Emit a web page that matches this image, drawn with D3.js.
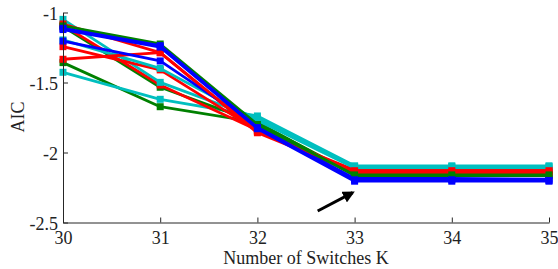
<!DOCTYPE html>
<html>
<head>
<meta charset="utf-8">
<script src="https://cdn.jsdelivr.net/npm/d3@7"></script>
<style>
  body { margin: 0; background: #fff; }
  svg { display: block; }
</style>
</head>
<body>
<svg width="558" height="269"></svg>
<script>
// Number of switches on the x axis
const kValues = [30, 31, 32, 33, 34, 35];
const yTicks = [-1, -1.5, -2, -2.5];

// AIC curves, one per run
const blueA  = [-1.113, -1.237, -1.822, -2.195, -2.195, -2.200];
const blueB  = [-1.122, -1.247, -1.830, -2.205, -2.205, -2.205];
const blueC  = [-1.204, -1.346, -1.815, -2.185, -2.185, -2.190];
const redA   = [-1.082, -1.287, -1.850, -2.130, -2.130, -2.130];
const redB   = [-1.334, -1.287, -1.859, -2.140, -2.140, -2.140];
const redC   = [-1.244, -1.410, -1.845, -2.125, -2.125, -2.125];
const redD   = [-1.090, -1.518, -1.840, -2.145, -2.145, -2.145];
const greenA = [-1.096, -1.225, -1.800, -2.160, -2.160, -2.160];
const greenB = [-1.100, -1.534, -1.787, -2.155, -2.155, -2.155];
const greenC = [-1.358, -1.673, -1.785, -2.165, -2.165, -2.165];
const cyanA  = [-1.196, -1.399, -1.770, -2.110, -2.110, -2.110];
const cyanB  = [-1.049, -1.499, -1.755, -2.100, -2.100, -2.100];
const cyanC  = [-1.427, -1.620, -1.739, -2.095, -2.095, -2.095];

const series = [
  { color: "#008000", values: greenC },
  { color: "#00BFBF", values: cyanC },
  { color: "#008000", values: greenB },
  { color: "#FF0000", values: redD },
  { color: "#00BFBF", values: cyanB },
  { color: "#FF0000", values: redC },
  { color: "#00BFBF", values: cyanA },
  { color: "#FF0000", values: redB },
  { color: "#0000FF", values: blueC },
  { color: "#FF0000", values: redA },
  { color: "#008000", values: greenA },
  { color: "#0000FF", values: blueA },
  { color: "#0000FF", values: blueB }
];

// arrow annotation pointing at K = 33, in data units
const arrowFrom = [32.62, -2.418];
const arrowTo = [32.98, -2.287];

const svg = d3.select("svg");
const x = d3.scaleLinear().domain([30, 35]).range([63, 549]);
const y = d3.scaleLinear().domain([-2.5, -1]).range([222.5, 12.5]);

const font = "'Liberation Serif', 'Times New Roman', serif";

// Lines
const line = d3.line()
  .x((d, i) => x(kValues[i]))
  .y(d => y(d));

series.forEach(s => {
  svg.append("path")
    .datum(s.values)
    .attr("fill", "none")
    .attr("stroke", s.color)
    .attr("stroke-width", 2.8)
    .attr("stroke-linejoin", "round")
    .attr("d", line);

  svg.selectAll(null)
    .data(s.values)
    .enter()
    .append("rect")
    .attr("x", (d, i) => x(kValues[i]) - 3.5)
    .attr("y", d => y(d) - 3.5)
    .attr("width", 7)
    .attr("height", 7)
    .attr("fill", s.color);
});

// Axes
const xAxis = svg.append("g")
  .attr("transform", `translate(0,${y(-2.5)})`)
  .call(d3.axisBottom(x).tickValues(kValues).tickFormat(d3.format("d"))
    .tickSizeInner(-5).tickSizeOuter(0).tickPadding(9));

const yAxis = svg.append("g")
  .attr("transform", `translate(${x(30)},0)`)
  .call(d3.axisLeft(y).tickValues(yTicks).tickFormat(d => d)
    .tickSizeInner(-5).tickSizeOuter(0).tickPadding(5));

[xAxis, yAxis].forEach(a => {
  a.select(".domain").attr("stroke", "#262626");
  a.selectAll(".tick line").attr("stroke", "#262626");
  a.selectAll("text")
    .attr("fill", "#222")
    .style("font-family", font)
    .style("font-size", "18px");
});
yAxis.selectAll("text").attr("dy", "0.4em");

// Axis labels
svg.append("text")
  .attr("x", (x(30) + x(35)) / 2)
  .attr("y", 264)
  .attr("text-anchor", "middle")
  .style("font-family", font)
  .style("font-size", "18px")
  .attr("fill", "#222")
  .text("Number of Switches K");

svg.append("text")
  .attr("transform", "translate(24,117) rotate(-90)")
  .attr("text-anchor", "middle")
  .style("font-family", font)
  .style("font-size", "18px")
  .attr("fill", "#222")
  .text("AIC");

// Arrow
svg.append("defs").append("marker")
  .attr("id", "head")
  .attr("viewBox", "0 0 10 10")
  .attr("refX", 8)
  .attr("refY", 5)
  .attr("markerWidth", 4)
  .attr("markerHeight", 4)
  .attr("orient", "auto")
  .append("path")
  .attr("d", "M0,0 L10,5 L0,10 z")
  .attr("fill", "#000");

svg.append("line")
  .attr("x1", x(arrowFrom[0]))
  .attr("y1", y(arrowFrom[1]))
  .attr("x2", x(arrowTo[0]))
  .attr("y2", y(arrowTo[1]))
  .attr("stroke", "#000")
  .attr("stroke-width", 3)
  .attr("marker-end", "url(#head)");
</script>
</body>
</html>
